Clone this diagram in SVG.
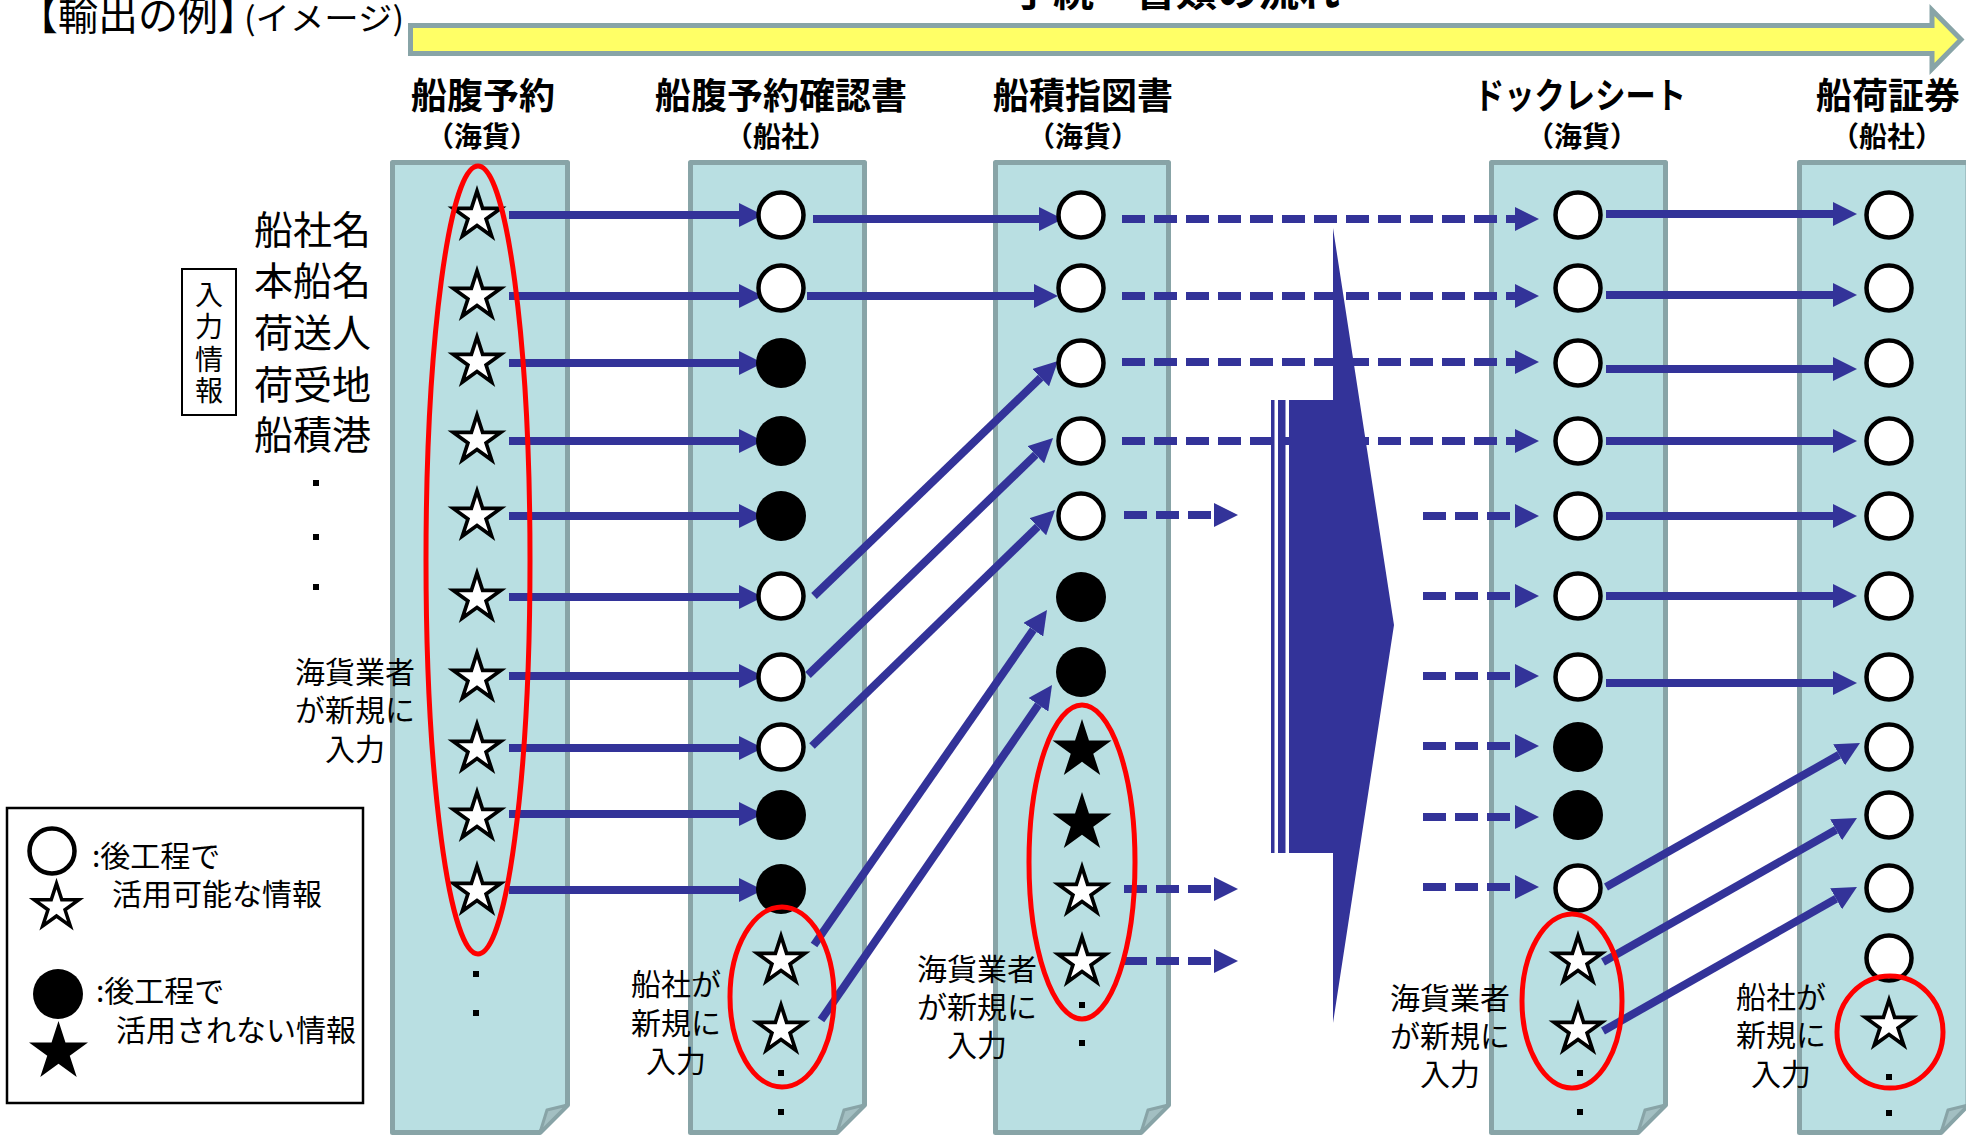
<svg xmlns="http://www.w3.org/2000/svg" xmlns:xlink="http://www.w3.org/1999/xlink" width="1966" height="1135" viewBox="0 0 1966 1135">
<style>
.box{fill:#b9dfe2;stroke:#88a4a7;stroke-width:5;stroke-linejoin:round}
.flap{fill:#a3bfc2;stroke:#88a4a7;stroke-width:3;stroke-linejoin:round}
.oc{fill:#fff;stroke:#000;stroke-width:4.5}
.fc{fill:#000}
.ln{stroke:#333399;stroke-width:8;fill:none;marker-end:url(#ah)}
.dl{stroke:#333399;stroke-width:8;fill:none;stroke-dasharray:23 9;marker-end:url(#ah)}
.red{fill:none;stroke:#ff0000;stroke-width:5}
.dot{fill:#000}
text{font-family:"Noto Sans CJK JP","Noto Sans",sans-serif;fill:#000}
.h{font-size:36px;font-weight:bold;text-anchor:middle}
.hs{font-size:28px;font-weight:bold;text-anchor:middle}
.lab{font-size:39px}
.n{font-size:30px;text-anchor:middle}
.lg{font-size:30px}
.v{font-size:28px;text-anchor:middle}
</style>
<defs>
<marker id="ah" markerUnits="userSpaceOnUse" markerWidth="24" markerHeight="24" viewBox="0 0 24 24" refX="0" refY="12" orient="auto"><path d="M0,0L24,12L0,24Z" fill="#333399"/></marker>
<polygon id="star" points="0,-31 6.96,-9.58 29.48,-9.58 11.26,3.66 18.22,25.08 0,11.84 -18.22,25.08 -11.26,3.66 -29.48,-9.58 -6.96,-9.58"/>
<g id="ostar"><use xlink:href="#star" fill="#000"/><use xlink:href="#star" fill="#fff" transform="scale(0.613)"/></g>
<g id="fstar"><use xlink:href="#star" fill="#000"/></g>
</defs>
<rect width="1966" height="1135" fill="#fff"/>

<g id="title">
<text x="18" y="30" font-size="40">【輸出の例】</text>
<text x="244" y="30" font-size="32" textLength="160" lengthAdjust="spacingAndGlyphs">(イメージ)</text>
</g>
<g id="flow-arrow">
<polygon points="410.5,25.5 1932,25.5 1932,10 1961,39.5 1932,69 1932,53.5 410.5,53.5" fill="#ffff66" stroke="#88a4a7" stroke-width="5"/>
<text x="1012" y="6" font-size="40" font-weight="bold" textLength="328" lengthAdjust="spacingAndGlyphs">手続・書類の流れ</text>
</g>

<g id="col1">
<path class="box" d="M392.5,162.5H567.5V1105L540,1132.5H392.5Z"/>
<path class="flap" d="M567.5,1105L547,1110L540,1132.5Z"/>
<text class="h" x="483" y="109">船腹予約</text>
<text class="hs" x="482" y="147">（海貨）</text>
</g>
<g id="col2">
<path class="box" d="M690.5,162.5H864.5V1105L837,1132.5H690.5Z"/>
<path class="flap" d="M864.5,1105L844,1110L837,1132.5Z"/>
<text class="h" x="781" y="109">船腹予約確認書</text>
<text class="hs" x="781" y="147">（船社）</text>
</g>
<g id="col3">
<path class="box" d="M995.5,162.5H1168.5V1105L1141,1132.5H995.5Z"/>
<path class="flap" d="M1168.5,1105L1148,1110L1141,1132.5Z"/>
<text class="h" x="1083" y="109">船積指図書</text>
<text class="hs" x="1083" y="147">（海貨）</text>
</g>
<g id="col4">
<path class="box" d="M1491.5,162.5H1665.5V1105L1638,1132.5H1491.5Z"/>
<path class="flap" d="M1665.5,1105L1645,1110L1638,1132.5Z"/>
<text class="h" x="1580" y="109" textLength="212" lengthAdjust="spacingAndGlyphs">ドックレシート</text>
<text class="hs" x="1582" y="147">（海貨）</text>
</g>
<g id="col5">
<path class="box" d="M1799.5,162.5H1968V1105L1941,1132.5H1799.5Z"/>
<path class="flap" d="M1968,1105L1948,1110L1941,1132.5Z"/>
<text class="h" x="1888" y="109">船荷証券</text>
<text class="hs" x="1887" y="147">（船社）</text>
</g>

<g id="input-labels">
<text class="lab" x="254" y="244">船社名</text>
<text class="lab" x="254" y="295">本船名</text>
<text class="lab" x="254" y="347">荷送人</text>
<text class="lab" x="254" y="399">荷受地</text>
<text class="lab" x="254" y="449">船積港</text>
<rect class="dot" x="313" y="480" width="6" height="6"/>
<rect class="dot" x="313" y="534" width="6" height="6"/>
<rect class="dot" x="313" y="584" width="6" height="6"/>
</g>
<g id="input-info">
<rect x="182" y="269" width="54" height="146" fill="none" stroke="#000" stroke-width="2"/>
<text class="v" x="209" y="305">入</text>
<text class="v" x="209" y="337">力</text>
<text class="v" x="209" y="370">情</text>
<text class="v" x="209" y="401">報</text>
</g>

<g id="connectors">
<path class="ln" d="M509,215H739"/>
<path class="ln" d="M509,296H739"/>
<path class="ln" d="M509,363H739"/>
<path class="ln" d="M509,441H739"/>
<path class="ln" d="M509,516H739"/>
<path class="ln" d="M509,597H739"/>
<path class="ln" d="M509,676H739"/>
<path class="ln" d="M509,748H739"/>
<path class="ln" d="M509,814H739"/>
<path class="ln" d="M509,890H739"/>
<path class="ln" d="M813,219H1039"/>
<path class="ln" d="M807,296H1034"/>
<path class="ln" d="M814,596L1040.7,377.7"/>
<path class="ln" d="M808,675L1035.8,454.7"/>
<path class="ln" d="M812,746L1037.8,526.7"/>
<path class="ln" d="M814,945L1033.3,629.7"/>
<path class="ln" d="M821,1020L1038.4,704.8"/>
<path class="dl" d="M1122,219H1515"/>
<path class="dl" d="M1122,296H1515"/>
<path class="dl" d="M1122,362H1515"/>
<path class="dl" d="M1122,441H1515"/>
<path class="dl" d="M1124,515H1214"/>
<path class="dl" d="M1124,889H1214"/>
<path class="dl" d="M1124,961H1214"/>
<path class="dl" d="M1423,516H1515"/>
<path class="dl" d="M1423,596H1515"/>
<path class="dl" d="M1423,676H1515"/>
<path class="dl" d="M1423,746H1515"/>
<path class="dl" d="M1423,817H1515"/>
<path class="dl" d="M1423,887H1515"/>
<path class="ln" d="M1606,214H1833"/>
<path class="ln" d="M1606,295H1833"/>
<path class="ln" d="M1606,369H1833"/>
<path class="ln" d="M1606,441H1833"/>
<path class="ln" d="M1606,516H1833"/>
<path class="ln" d="M1606,596H1833"/>
<path class="ln" d="M1606,683H1833"/>
<path class="ln" d="M1606,887L1839.1,754.8"/>
<path class="ln" d="M1603,962L1836.1,829.8"/>
<path class="ln" d="M1603,1031L1836.1,898.8"/>
</g>

<g id="process-arrow" fill="#333399">
<polygon points="1333,228 1394,625 1333,1023 1333,853 1289,853 1289,400 1333,400"/>
<rect x="1271" y="400" width="3.5" height="453"/>
<rect x="1278" y="400" width="7.5" height="453"/>
</g>

<g id="items-col1">
<use xlink:href="#ostar" x="477" y="216"/>
<use xlink:href="#ostar" x="477" y="296"/>
<use xlink:href="#ostar" x="477" y="362"/>
<use xlink:href="#ostar" x="477" y="440"/>
<use xlink:href="#ostar" x="477" y="516"/>
<use xlink:href="#ostar" x="477" y="598"/>
<use xlink:href="#ostar" x="477" y="678"/>
<use xlink:href="#ostar" x="477" y="749"/>
<use xlink:href="#ostar" x="477" y="817"/>
<use xlink:href="#ostar" x="477" y="891"/>
<rect class="dot" x="473" y="971" width="6" height="6"/>
<rect class="dot" x="473" y="1010" width="6" height="6"/>
<ellipse class="red" cx="478" cy="560" rx="52" ry="394"/>
</g>
<g id="items-col2">
<circle class="oc" cx="781" cy="215" r="22.5"/>
<circle class="oc" cx="781" cy="288" r="22.5"/>
<circle class="fc" cx="781" cy="363" r="25"/>
<circle class="fc" cx="781" cy="441" r="25"/>
<circle class="fc" cx="781" cy="516" r="25"/>
<circle class="oc" cx="781" cy="596" r="22.5"/>
<circle class="oc" cx="781" cy="677" r="22.5"/>
<circle class="oc" cx="781" cy="747" r="22.5"/>
<circle class="fc" cx="781" cy="815" r="25"/>
<circle class="fc" cx="781" cy="889" r="25"/>
<use xlink:href="#ostar" x="781" y="961"/>
<use xlink:href="#ostar" x="781" y="1030"/>
<rect class="dot" x="778" y="1070" width="6" height="6"/>
<rect class="dot" x="778" y="1109" width="6" height="6"/>
<ellipse class="red" cx="782" cy="997" rx="52" ry="90"/>
</g>
<g id="items-col3">
<circle class="oc" cx="1081" cy="215" r="22.5"/>
<circle class="oc" cx="1081" cy="288" r="22.5"/>
<circle class="oc" cx="1081" cy="363" r="22.5"/>
<circle class="oc" cx="1081" cy="441" r="22.5"/>
<circle class="oc" cx="1081" cy="516" r="22.5"/>
<circle class="fc" cx="1081" cy="597" r="25"/>
<circle class="fc" cx="1081" cy="672" r="25"/>
<use xlink:href="#fstar" x="1082" y="750"/>
<use xlink:href="#fstar" x="1082" y="823"/>
<use xlink:href="#ostar" x="1082" y="892"/>
<use xlink:href="#ostar" x="1082" y="962"/>
<rect class="dot" x="1079" y="1002" width="6" height="6"/>
<rect class="dot" x="1079" y="1040" width="6" height="6"/>
<ellipse class="red" cx="1082" cy="862" rx="53" ry="157"/>
</g>
<g id="items-col4">
<circle class="oc" cx="1578" cy="215" r="22.5"/>
<circle class="oc" cx="1578" cy="288" r="22.5"/>
<circle class="oc" cx="1578" cy="363" r="22.5"/>
<circle class="oc" cx="1578" cy="441" r="22.5"/>
<circle class="oc" cx="1578" cy="516" r="22.5"/>
<circle class="oc" cx="1578" cy="596" r="22.5"/>
<circle class="oc" cx="1578" cy="677" r="22.5"/>
<circle class="fc" cx="1578" cy="747" r="25"/>
<circle class="fc" cx="1578" cy="815" r="25"/>
<circle class="oc" cx="1578" cy="888" r="22.5"/>
<use xlink:href="#ostar" x="1578" y="961"/>
<use xlink:href="#ostar" x="1578" y="1030"/>
<rect class="dot" x="1577" y="1070" width="6" height="6"/>
<rect class="dot" x="1577" y="1109" width="6" height="6"/>
<ellipse class="red" cx="1572" cy="1001" rx="50" ry="87"/>
</g>
<g id="items-col5">
<circle class="oc" cx="1889" cy="215" r="22.5"/>
<circle class="oc" cx="1889" cy="288" r="22.5"/>
<circle class="oc" cx="1889" cy="363" r="22.5"/>
<circle class="oc" cx="1889" cy="441" r="22.5"/>
<circle class="oc" cx="1889" cy="516" r="22.5"/>
<circle class="oc" cx="1889" cy="596" r="22.5"/>
<circle class="oc" cx="1889" cy="677" r="22.5"/>
<circle class="oc" cx="1889" cy="747" r="22.5"/>
<circle class="oc" cx="1889" cy="815" r="22.5"/>
<circle class="oc" cx="1889" cy="888" r="22.5"/>
<circle class="oc" cx="1889" cy="958" r="22.5"/>
<use xlink:href="#ostar" x="1889" y="1025"/>
<rect class="dot" x="1886" y="1074" width="6" height="6"/>
<rect class="dot" x="1886" y="1110" width="6" height="6"/>
<ellipse class="red" cx="1890" cy="1032" rx="53" ry="56"/>
</g>

<g id="note-col1">
<text class="n" x="355" y="683">海貨業者</text>
<text class="n" x="355" y="721">が新規に</text>
<text class="n" x="355" y="760">入力</text>
</g>
<g id="note-col2">
<text class="n" x="676" y="995">船社が</text>
<text class="n" x="676" y="1034">新規に</text>
<text class="n" x="676" y="1072">入力</text>
</g>
<g id="note-col3">
<text class="n" x="977" y="980">海貨業者</text>
<text class="n" x="977" y="1018">が新規に</text>
<text class="n" x="977" y="1056">入力</text>
</g>
<g id="note-col4">
<text class="n" x="1450" y="1009">海貨業者</text>
<text class="n" x="1450" y="1047">が新規に</text>
<text class="n" x="1450" y="1085">入力</text>
</g>
<g id="note-col5">
<text class="n" x="1781" y="1008">船社が</text>
<text class="n" x="1781" y="1046">新規に</text>
<text class="n" x="1781" y="1085">入力</text>
</g>

<g id="legend">
<rect x="7" y="808" width="356" height="295" fill="#fff" stroke="#000" stroke-width="2.5"/>
<circle class="oc" cx="52" cy="851" r="22.5"/>
<use xlink:href="#ostar" transform="translate(56.5,907) scale(0.94)"/>
<text class="lg" x="92" y="867">:後工程で</text>
<text class="lg" x="112" y="905">活用可能な情報</text>
<circle class="fc" cx="58" cy="994" r="25"/>
<use xlink:href="#fstar" x="58.5" y="1052"/>
<text class="lg" x="96" y="1002">:後工程で</text>
<text class="lg" x="116" y="1041">活用されない情報</text>
</g>
</svg>
